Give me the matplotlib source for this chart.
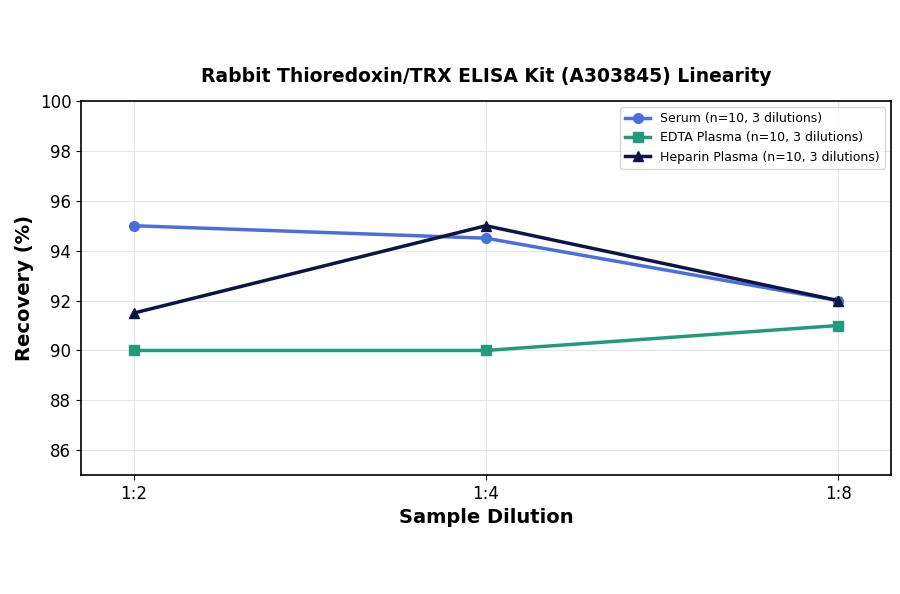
import matplotlib
matplotlib.use("Agg")
import matplotlib.pyplot as plt

dilutions = ["1:2", "1:4", "1:8"]
serum = [95, 94.5, 92]
edta = [90, 90, 91]
heparin = [91.5, 95, 92]

fig, ax = plt.subplots(figsize=(9, 5.94), dpi=100)
x = range(len(dilutions))
ax.plot(x, serum, marker="o", color="#4a6fdc", lw=2.5, ms=7, label="Serum (n=10, 3 dilutions)")
ax.plot(x, edta, marker="s", color="#239b7b", lw=2.5, ms=7, label="EDTA Plasma (n=10, 3 dilutions)")
ax.plot(x, heparin, marker="^", color="#0c1545", lw=2.5, ms=7, label="Heparin Plasma (n=10, 3 dilutions)")
ax.set_xticks(list(x))
ax.set_xticklabels(dilutions, fontsize=12)
ax.set_ylim(85, 100)
ax.set_yticks(range(86, 101, 2))
ax.tick_params(axis="y", labelsize=12)
ax.set_xlim(-0.15, 2.15)
ax.grid(True, color="#e6e6e6", lw=0.8)
for s in ax.spines.values():
    s.set_linewidth(1.2)
ax.set_xlabel("Sample Dilution", fontsize=14, fontweight="bold")
ax.set_ylabel("Recovery (%)", fontsize=14, fontweight="bold")
ax.set_title("Rabbit Thioredoxin/TRX ELISA Kit (A303845) Linearity", fontsize=13.5, fontweight="bold", pad=14)
ax.legend(loc="upper right", fontsize=9)
plt.subplots_adjust(left=0.09, right=0.99, top=0.83, bottom=0.2)
fig.savefig("out.png", dpi=100)
